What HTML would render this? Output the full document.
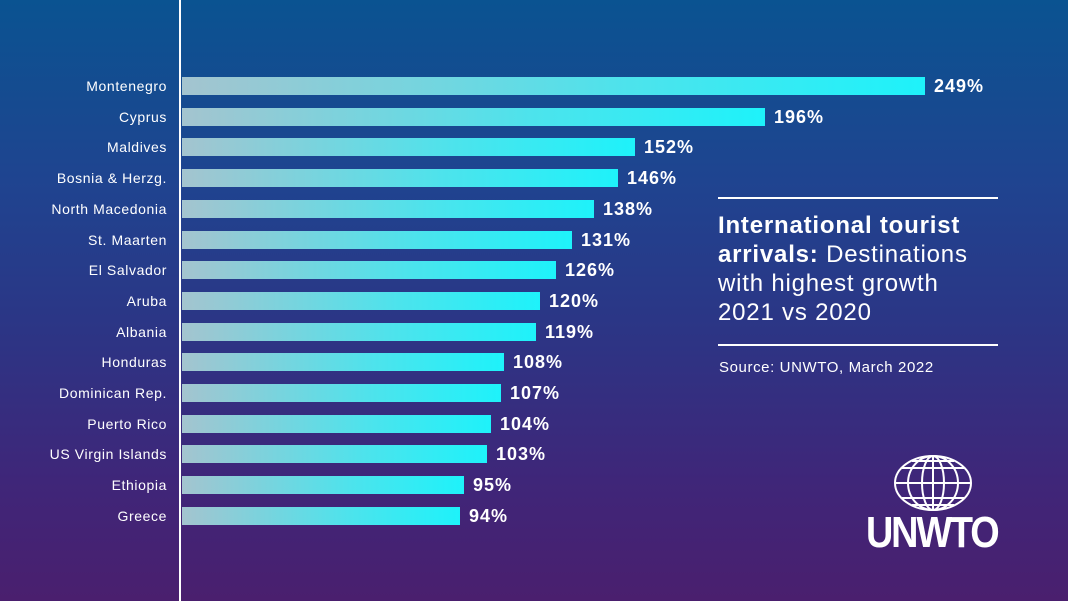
<!DOCTYPE html>
<html><head><style>
body{margin:0}
#c{position:relative;width:1068px;height:601px;overflow:hidden;background:linear-gradient(180deg,#0a5391 0%,#1f4490 30%,#2c3585 55%,#3f2679 80%,#4a1f6e 100%);font-family:"Liberation Sans",sans-serif;color:#fff}
.vl{position:absolute;left:179px;top:0;width:2px;height:601px;background:#fff}
.r{position:absolute;left:0;height:18px}
.lab{position:absolute;width:170px;text-align:right;font-size:14px;letter-spacing:0.6px;line-height:18px;top:0}
.bar{position:absolute;left:182px;top:0;height:18px;background:linear-gradient(90deg,#a4c4cf,#4de3ec 60%,#1ef2fa)}
.val{position:absolute;top:-2px;font-size:18px;font-weight:bold;letter-spacing:1px;line-height:22px}
.t{position:absolute;left:718px;font-size:24px;letter-spacing:0.8px;line-height:29px;white-space:nowrap}
</style></head><body><div id="c">
<div class="vl"></div>
<div id="rows"></div>
<div style="position:absolute;left:718px;top:197px;width:280px;height:2px;background:#fff"></div>
<div class="t" style="top:211px"><b>International tourist<br>arrivals:</b> Destinations<br>with highest growth<br>2021 vs 2020</div>
<div style="position:absolute;left:718px;top:344px;width:280px;height:2px;background:#fff"></div>
<div style="position:absolute;left:719px;top:359px;font-size:15px;letter-spacing:0.6px">Source: UNWTO, March 2022</div>
<svg style="position:absolute;left:890px;top:453px" width="86" height="62" viewBox="0 0 86 62" fill="none" stroke="#fff" stroke-width="2">
<ellipse cx="43" cy="30" rx="38" ry="27"/><ellipse cx="43" cy="30" rx="25" ry="27"/><ellipse cx="43" cy="30" rx="11" ry="27"/>
<line x1="43" y1="3" x2="43" y2="57"/><line x1="5" y1="30" x2="81" y2="30"/>
<line x1="12" y1="15" x2="74" y2="15"/><line x1="12" y1="45" x2="74" y2="45"/><line x1="22" y1="8" x2="64" y2="8"/><line x1="22" y1="52" x2="64" y2="52"/>
</svg>
<div style="position:absolute;left:866px;top:508px;font-size:44px;font-weight:bold;letter-spacing:-2.5px;transform:scaleX(0.86);transform-origin:left;line-height:50px">UNWTO</div>
</div>
<script>
var d=[["Montenegro",925,"249%"],["Cyprus",765,"196%"],["Maldives",635,"152%"],["Bosnia & Herzg.",618,"146%"],["North Macedonia",594,"138%"],["St. Maarten",572,"131%"],["El Salvador",556,"126%"],["Aruba",540,"120%"],["Albania",536,"119%"],["Honduras",504,"108%"],["Dominican Rep.",501,"107%"],["Puerto Rico",491,"104%"],["US Virgin Islands",487,"103%"],["Ethiopia",464,"95%"],["Greece",460,"94%"]];
var h="";d.forEach(function(r,i){var y=77+i*30.7;h+='<div class="r" style="top:'+y+'px;width:1068px"><div class="lab" style="left:-3px">'+r[0].replace("&","&amp;")+'</div><div class="bar" style="width:'+(r[1]-182)+'px"></div><div class="val" style="left:'+(r[1]+9)+'px">'+r[2]+'</div></div>';});
document.getElementById("rows").innerHTML=h;
</script>
</body></html>
